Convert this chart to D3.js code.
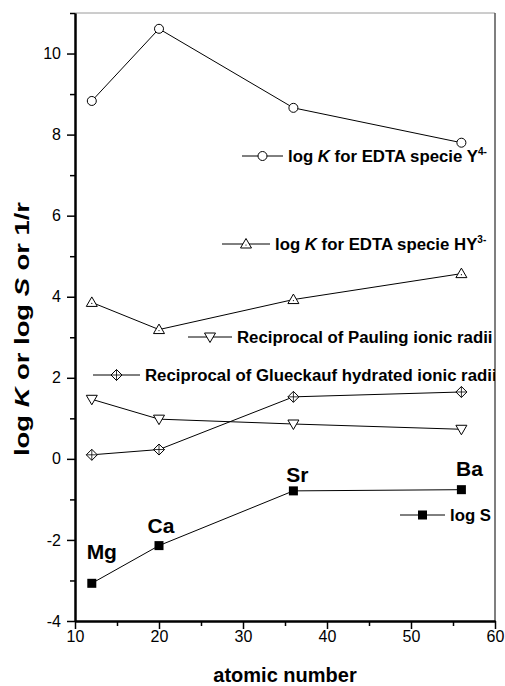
<!DOCTYPE html>
<meta charset="utf-8">
<style>
body { margin: 0; background: #fff; }
svg { display: block; font-family: "Liberation Sans", Arial, Helvetica, sans-serif; }
.axis text { font-size: 16px; fill: #000; }
.axis path, .axis line { stroke: #000; }
.axis path { stroke-width: 2px; }
.axis line { stroke-width: 1.5px; }
.series { fill: none; stroke: #000; stroke-width: 1px; }
.legend text { font-size: 16.8px; font-weight: bold; }
.elem { font-size: 21px; font-weight: bold; text-anchor: middle; }
</style>
<body>
<svg width="505" height="686"></svg>
<script src="https://d3js.org/d3.v7.min.js"></script>
<script>
// data
var atomicNumbers = [12, 20, 36, 56];
var elements = ["Mg", "Ca", "Sr", "Ba"];
var logKY4 = [8.83, 10.61, 8.66, 7.8];
var logKHY3 = [3.86, 3.19, 3.93, 4.57];
var paulingRecip = [1.47, 0.98, 0.86, 0.73];
var glueckaufRecip = [0.1, 0.23, 1.53, 1.65];
var logS = [-3.07, -2.14, -0.79, -0.76];

var xTicks = [10, 20, 30, 40, 50, 60];
var xMinor = [15, 25, 35, 45, 55];
var yTicks = [-4, -2, 0, 2, 4, 6, 8, 10];
var yMinor = [-3, -1, 1, 3, 5, 7, 9, 11];

var svg = d3.select("svg"),
    margin = {top: 13, right: 10, bottom: 65, left: 75},
    width = +svg.attr("width") - margin.left - margin.right,
    height = +svg.attr("height") - margin.top - margin.bottom;

var x = d3.scaleLinear().domain([10, 60]).range([0, width]),
    y = d3.scaleLinear().domain([-4, 11]).range([height, 0]);

// plain hyphen for negatives, like the original
var fmt = function(d) { return String(d); };

var g = svg.append("g")
    .attr("transform", "translate(" + margin.left + "," + margin.top + ")");

g.append("defs").append("clipPath").attr("id", "plotclip")
  .append("rect").attr("x", 0).attr("y", -5).attr("width", width).attr("height", height + 10);

// top and right frame
g.append("line").attr("x1", 0).attr("x2", width).attr("y1", 0).attr("y2", 0)
    .attr("stroke", "#9a9a9a").attr("stroke-width", 1);
g.append("line").attr("x1", width).attr("x2", width).attr("y1", 0).attr("y2", height)
    .attr("stroke", "#555").attr("stroke-width", 1.5);

// axes
g.append("g").attr("class", "axis")
    .attr("transform", "translate(0," + height + ")")
    .call(d3.axisBottom(x).tickValues(xMinor).tickSize(5).tickSizeOuter(0).tickFormat(""));
g.append("g").attr("class", "axis")
    .attr("transform", "translate(0," + height + ")")
    .call(d3.axisBottom(x).tickValues(xTicks).tickSize(8).tickSizeOuter(0).tickPadding(2).tickFormat(fmt));
g.append("g").attr("class", "axis")
    .call(d3.axisLeft(y).tickValues(yMinor).tickSize(5).tickSizeOuter(0).tickFormat(""));
g.append("g").attr("class", "axis")
    .call(d3.axisLeft(y).tickValues(yTicks).tickSize(8).tickSizeOuter(0).tickPadding(6).tickFormat(fmt));

// axis titles
svg.append("text")
    .attr("x", margin.left + width / 2)
    .attr("y", 682)
    .attr("text-anchor", "middle")
    .style("font-size", "20px").style("font-weight", "bold")
    .text("atomic number");

var yt = svg.append("text")
    .attr("transform", "translate(29,329) rotate(-90)")
    .attr("text-anchor", "middle")
    .attr("textLength", 254)
    .attr("lengthAdjust", "spacingAndGlyphs")
    .style("font-size", "21px").style("font-weight", "bold");
yt.append("tspan").text("log ");
yt.append("tspan").style("font-style", "italic").text("K");
yt.append("tspan").text(" or log ");
yt.append("tspan").style("font-style", "italic").text("S");
yt.append("tspan").text(" or 1/r");

// marker drawing
function marker(sel, type) {
  if (type == "circle") {
    sel.append("circle").attr("r", 4.5).attr("fill", "#fff").attr("stroke", "#000");
  } else if (type == "up") {
    sel.append("path").attr("d", "M0,-5.5L5.5,4L-5.5,4Z").attr("fill", "#fff").attr("stroke", "#000");
    sel.append("circle").attr("r", 0.6).attr("cy", 1).attr("fill", "#000");
  } else if (type == "down") {
    sel.append("path").attr("d", "M0,5.5L5.5,-4L-5.5,-4Z").attr("fill", "#fff").attr("stroke", "#000");
  } else if (type == "diamond") {
    sel.append("path").attr("d", "M0,-5.5L5.5,0L0,5.5L-5.5,0Z").attr("fill", "#fff").attr("stroke", "#000");
    sel.append("path").attr("d", "M0,-5.5V5.5M-5.5,0H5.5").attr("stroke", "#000").attr("stroke-width", 0.8);
  } else if (type == "square") {
    sel.append("rect").attr("x", -4.5).attr("y", -4.5).attr("width", 9).attr("height", 9).attr("fill", "#000");
  }
}

var series = [
  {values: logKY4, type: "circle"},
  {values: logKHY3, type: "up"},
  {values: paulingRecip, type: "down"},
  {values: glueckaufRecip, type: "diamond"},
  {values: logS, type: "square"}
];

var line = d3.line()
    .x(function(d, i) { return x(atomicNumbers[i]); })
    .y(function(d) { return y(d); });

series.forEach(function(s) {
  g.append("path").attr("class", "series").attr("d", line(s.values));
  s.values.forEach(function(v, i) {
    g.append("g")
      .attr("transform", "translate(" + x(atomicNumbers[i]) + "," + y(v) + ")")
      .call(marker, s.type);
  });
});

// element labels
var labelOffsets = [[10, -24], [2, -13], [4, -9], [8, -14]];
elements.forEach(function(e, i) {
  g.append("text").attr("class", "elem")
    .attr("x", x(atomicNumbers[i]) + labelOffsets[i][0])
    .attr("y", y(logS[i]) + labelOffsets[i][1])
    .text(e);
});

// legends (pixel positions inside the plot)
var legends = [
  {type: "circle", x1: 167, x2: 208, y: 143, tx: 213, parts: [["log "], ["K", "italic"], [" for EDTA specie Y"], ["4-", "sup"]]},
  {type: "up", x1: 147, x2: 195, y: 231, tx: 200, parts: [["log "], ["K", "italic"], [" for EDTA specie HY"], ["3-", "sup"]]},
  {type: "down", x1: 113, x2: 157, y: 324, tx: 162, parts: [["Reciprocal of Pauling ionic radii"]]},
  {type: "diamond", x1: 18, x2: 65, y: 362, tx: 70, parts: [["Reciprocal of Glueckauf hydrated ionic radii"]]},
  {type: "square", x1: 325, x2: 370, y: 502, tx: 375, parts: [["log S"]]}
];

var lg = g.append("g").attr("class", "legend").attr("clip-path", "url(#plotclip)");
legends.forEach(function(l) {
  lg.append("line").attr("x1", l.x1).attr("x2", l.x2).attr("y1", l.y).attr("y2", l.y)
    .attr("stroke", "#000").attr("stroke-width", 1);
  lg.append("g").attr("transform", "translate(" + ((l.x1 + l.x2) / 2) + "," + l.y + ")").call(marker, l.type);
  var t = lg.append("text").attr("x", l.tx).attr("y", l.y + 6);
  l.parts.forEach(function(p) {
    var ts = t.append("tspan").text(p[0]);
    if (p[1] == "italic") ts.style("font-style", "italic");
    if (p[1] == "sup") ts.style("font-size", "10px").attr("dy", -7);
  });
});
</script>
</body>
